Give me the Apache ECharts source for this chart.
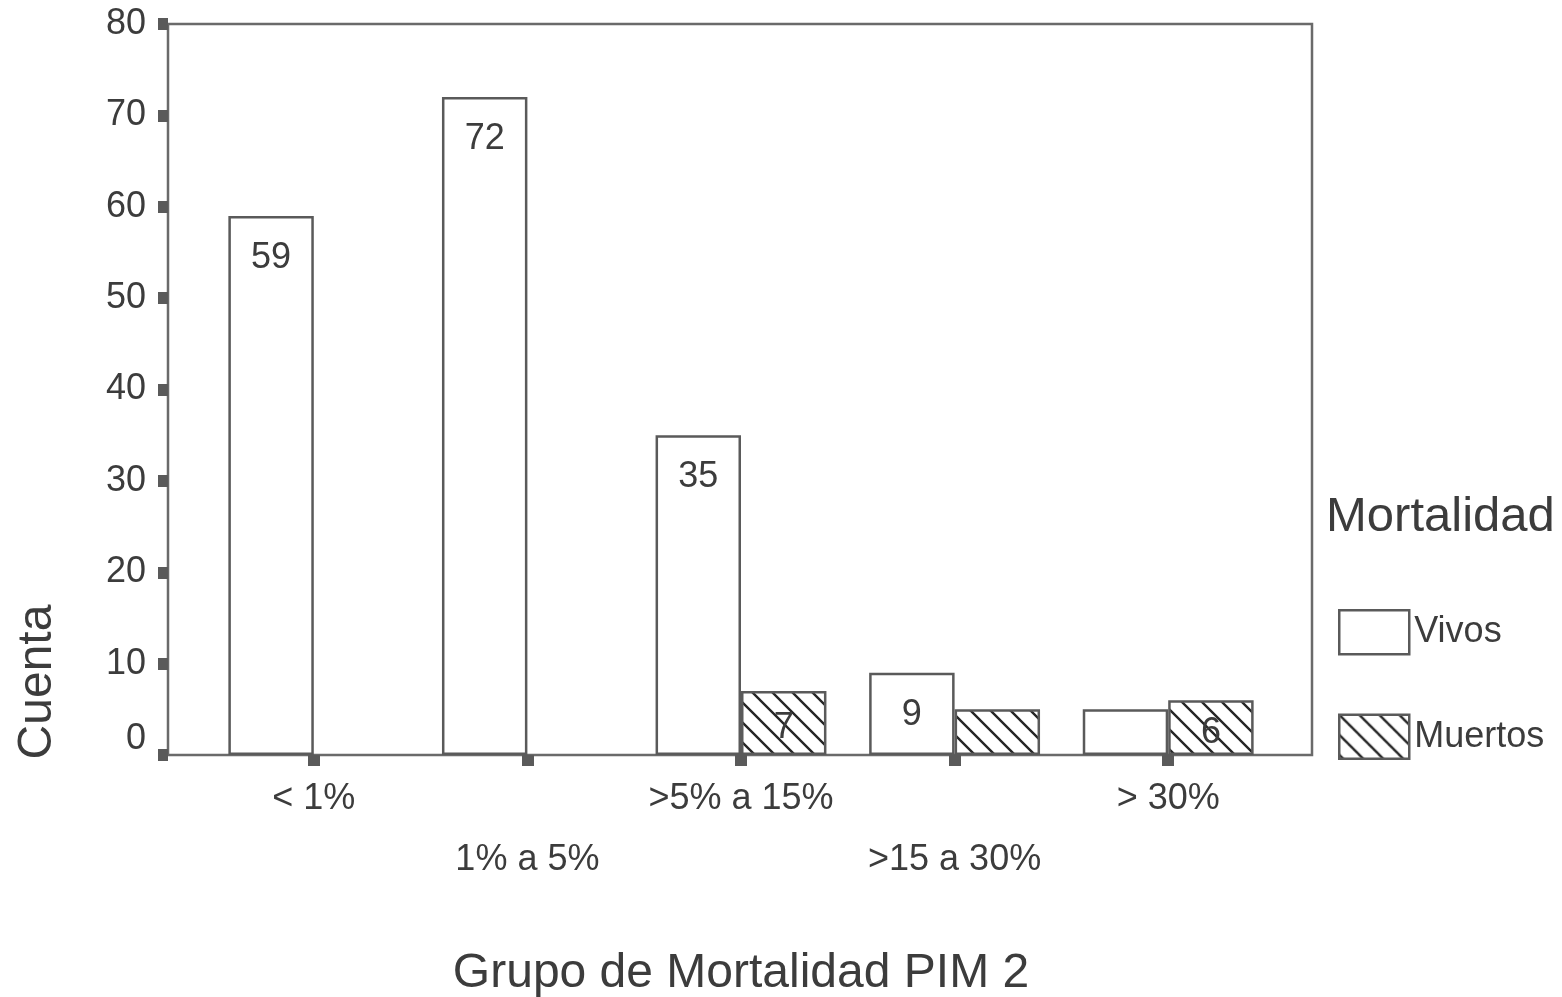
<!DOCTYPE html>
<html>
<head>
<meta charset="utf-8">
<title>Grupo de Mortalidad PIM 2</title>
<script src="https://cdn.jsdelivr.net/npm/echarts@6/dist/echarts.min.js"></script>
<style>
  html, body { margin: 0; padding: 0; background: #ffffff; }
  #chart { width: 1562px; height: 997px; }
</style>
</head>
<body>
<div id="chart"></div>
<script>
// Categories of PIM 2 predicted mortality
const categories = ['< 1%', '1% a 5%', '>5% a 15%', '>15 a 30%', '> 30%'];
// Counts per group
const vivos = [59, 72, 35, 9, 5];
const muertos = [0, 0, 7, 5, 6];
// Which bars carry a value label (1 = labelled)
const vivosLabelShown = [1, 1, 1, 1, 0];
const muertosLabelShown = [0, 0, 1, 0, 1];
// Y axis range
const yMin = 0, yMax = 80, yStep = 10;

const FONT = "'Liberation Sans', Arial, Helvetica, sans-serif";
const TEXT = '#3c3c3c';
const EDGE = '#5a5a5a';

// Diagonal hatch (\\\) used for the "Muertos" bars
function makeHatch() {
  const s = 20;
  const c = document.createElement('canvas');
  c.width = s; c.height = s;
  const g = c.getContext('2d');
  g.fillStyle = '#ffffff';
  g.fillRect(0, 0, s, s);
  g.strokeStyle = '#262626';
  g.lineWidth = 2.4;
  g.beginPath();
  g.moveTo(-2, -2); g.lineTo(s + 2, s + 2);
  g.moveTo(-2, s - 2); g.lineTo(2, s + 2);
  g.moveTo(s - 2, -2); g.lineTo(s + 2, 2);
  g.stroke();
  return c;
}
const hatch = { image: makeHatch(), repeat: 'repeat' };

// Empty counts get no outline so no flat bar is drawn on the axis
function withLabels(values, shown) {
  return values.map((v, i) => {
    const item = { value: v, label: { show: !!shown[i] } };
    if (v === 0) item.itemStyle = { borderWidth: 0 };
    return item;
  });
}

const chart = echarts.init(document.getElementById('chart'), null, { renderer: 'canvas' });

chart.setOption({
  backgroundColor: '#ffffff',
  animation: false,
  textStyle: { fontFamily: FONT, color: TEXT },
  title: {
    text: 'Mortalidad',
    left: 1326, top: 493,
    padding: 0,
    textStyle: { fontFamily: FONT, fontSize: 49, fontWeight: 'normal', color: TEXT }
  },
  legend: {
    orient: 'vertical',
    left: 1338, top: 609,
    padding: 0,
    itemWidth: 70, itemHeight: 44,
    itemGap: 58,
    icon: 'rect',
    textStyle: { fontFamily: FONT, fontSize: 36, color: TEXT, padding: [0, 0, 0, 0] },
    data: [
      { name: 'Vivos', itemStyle: { color: '#ffffff', borderColor: EDGE, borderWidth: 2.5 } },
      { name: 'Muertos', itemStyle: { color: hatch, borderColor: EDGE, borderWidth: 2.5 } }
    ]
  },
  graphic: [{
    type: 'text',
    x: 38, y: 682,
    rotation: Math.PI / 2,
    style: {
      text: 'Cuenta',
      fontFamily: FONT, fontSize: 48, fill: TEXT,
      align: 'center', verticalAlign: 'middle'
    }
  }],
  grid: [
    // data area
    { left: 207, right: 287, top: 24, bottom: 242, containLabel: false, outerBoundsMode: 'none' },
    // outer frame
    { left: 168, right: 250, top: 24, bottom: 242, show: true, outerBoundsMode: 'none',
      borderColor: '#6a6a6a', borderWidth: 2.5, backgroundColor: 'transparent', z: 0 }
  ],
  xAxis: [{
    gridIndex: 0,
    type: 'category',
    data: categories,
    boundaryGap: true,
    axisLine: { show: false },
    axisTick: { show: true, alignWithLabel: true, length: 11, lineStyle: { color: EDGE, width: 12 } },
    axisLabel: {
      margin: 14,
      interval: 0,
      fontFamily: FONT, fontSize: 36, color: TEXT, lineHeight: 61,
      formatter: (v, i) => (i % 2 === 1 ? '\n' + v : v)
    },
    name: 'Grupo de Mortalidad PIM 2',
    nameLocation: 'middle',
    nameGap: 195,
    nameTextStyle: { fontFamily: FONT, fontSize: 48, color: TEXT }
  }, {
    gridIndex: 1, type: 'value', show: false
  }],
  yAxis: [{
    gridIndex: 0,
    type: 'value',
    min: yMin, max: yMax, interval: yStep,
    offset: 39,
    axisLine: { show: false },
    axisTick: { show: true, length: 10, lineStyle: { color: EDGE, width: 12 } },
    splitLine: { show: false },
    axisLabel: {
      margin: 22,
      fontFamily: FONT, fontSize: 36, color: TEXT,
      formatter: v => (v === 0 ? '{z|0}' : String(v)),
      rich: { z: { fontFamily: FONT, fontSize: 36, color: TEXT, padding: [0, 0, 32, 0] } }
    }
  }, {
    gridIndex: 1, type: 'value', show: false
  }],
  series: [{
    name: 'Vivos',
    type: 'bar',
    xAxisIndex: 0, yAxisIndex: 0,
    data: withLabels(vivos, vivosLabelShown),
    barGap: '0%',
    barCategoryGap: '20%',
    itemStyle: { color: '#ffffff', borderColor: EDGE, borderWidth: 2.5 },
    label: {
      position: 'insideTop', distance: 24,
      fontFamily: FONT, fontSize: 36, color: TEXT
    },
    z: 3
  }, {
    name: 'Muertos',
    type: 'bar',
    xAxisIndex: 0, yAxisIndex: 0,
    data: withLabels(muertos, muertosLabelShown),
    barGap: '0%',
    barCategoryGap: '20%',
    itemStyle: { color: hatch, borderColor: EDGE, borderWidth: 2.5 },
    label: {
      position: 'inside', offset: [0, 5],
      fontFamily: FONT, fontSize: 36, color: TEXT
    },
    z: 3
  }]
});
</script>
</body>
</html>
